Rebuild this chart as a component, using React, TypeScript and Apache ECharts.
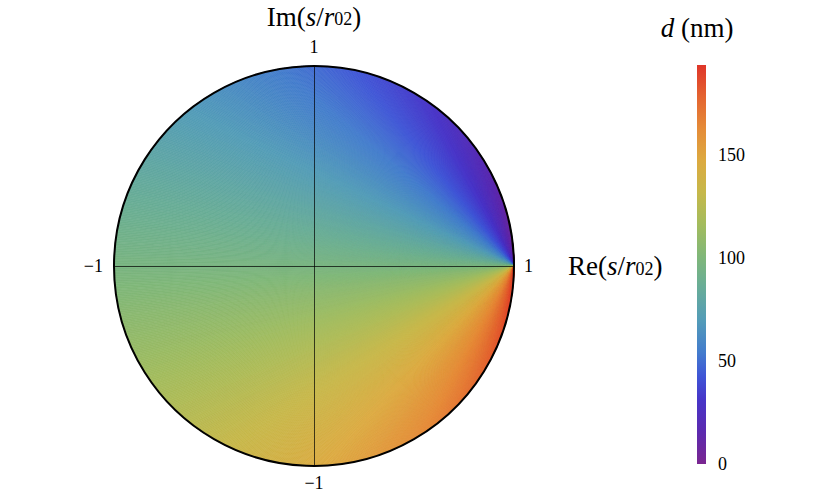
import React, { useEffect, useRef } from "react";
import * as echarts from "echarts";

// Edge samples: polar angle on the unit circle (deg) and d (nm) read at that edge point
const edgePhiDeg = [0, 15, 30, 45, 60, 75, 90, 105, 120, 135, 150, 165, 180, 195, 210, 225, 240, 255, 270, 285, 300, 315, 330, 345, 360];
const edgeD = [0, 8, 16, 24, 33, 41, 49, 57, 65, 73, 81, 89, 97, 106, 114, 122, 130, 138, 146, 154, 162, 170, 179, 187, 194];

// Colour bar
const cbMin = 0;
const cbMax = 194;
const cbInterval = 50;
const cbStops: [number, string][] = [
  [0.0, "#7a2690"],
  [0.08, "#5c2aaf"],
  [0.16, "#4735c8"],
  [0.22, "#3f55d6"],
  [0.28, "#437ccd"],
  [0.36, "#539cb8"],
  [0.45, "#6aae95"],
  [0.52, "#80b779"],
  [0.6, "#a3bc5d"],
  [0.68, "#c6b84a"],
  [0.76, "#dcaa40"],
  [0.84, "#e58c38"],
  [0.92, "#e46430"],
  [1.0, "#df3529"],
];

// Axis tick labels at the ends of the cross lines
const axisTicks = [
  { at: [0, 1], text: "1", side: "top" },
  { at: [-1, 0], text: "\u22121", side: "left" },
  { at: [1, 0], text: "1", side: "right" },
  { at: [0, -1], text: "\u22121", side: "bottom" },
];

const FONT = "Liberation Serif";

function hexToRgb(h: string) {
  const n = parseInt(h.slice(1), 16);
  return [(n >> 16) & 255, (n >> 8) & 255, n & 255];
}
function colorAt(d: number) {
  const t = Math.min(1, Math.max(0, (d - cbMin) / (cbMax - cbMin)));
  for (let i = 0; i < cbStops.length - 1; i++) {
    const [t0, c0] = cbStops[i];
    const [t1, c1] = cbStops[i + 1];
    if (t <= t1) {
      const f = (t - t0) / (t1 - t0);
      const a = hexToRgb(c0), b = hexToRgb(c1);
      const r = a.map((v, k) => Math.round(v + (b[k] - v) * f));
      return `rgb(${r[0]},${r[1]},${r[2]})`;
    }
  }
  return cbStops[cbStops.length - 1][1];
}

const richName = {
  n: { fontSize: 27, fontFamily: FONT, color: "#000" },
  i: { fontSize: 27, fontFamily: FONT, fontStyle: "italic", color: "#000" },
  sub: { fontSize: 18, fontFamily: FONT, color: "#000", verticalAlign: "bottom", padding: [0, 0, 2, 0] },
};

export default function App() {
  const ref = useRef<HTMLDivElement>(null);
  useEffect(() => {
    const chart = echarts.init(ref.current!, null, { renderer: "svg" });
    const wedges = edgePhiDeg.slice(0, -1).map((p, i) => [p, edgePhiDeg[i + 1], edgeD[i], edgeD[i + 1]]);

    const option: any = {
      animation: false,
      backgroundColor: "#fff",
      grid: [
        { left: 114, top: 66, width: 400, height: 400 },
        { left: 697, top: 65, width: 9, height: 399 },
      ],
      xAxis: [
        {
          gridIndex: 0, type: "value", min: -1, max: 1, z: 5,
          axisLine: { show: true, onZero: true, lineStyle: { color: "rgba(0,0,0,0.7)", width: 1 } },
          axisTick: { show: false }, axisLabel: { show: false }, splitLine: { show: false },
          name: "{n|Re(}{i|s}{n|/}{i|r}{sub|02}{n|)}",
          nameLocation: "end", nameGap: 54,
          nameTextStyle: { rich: richName, fontFamily: FONT, fontSize: 27, color: "#000" },
        },
        { gridIndex: 1, type: "value", min: 0, max: 1, show: false },
      ],
      yAxis: [
        {
          gridIndex: 0, type: "value", min: -1, max: 1, z: 5,
          axisLine: { show: true, onZero: true, lineStyle: { color: "rgba(0,0,0,0.7)", width: 1 } },
          axisTick: { show: false }, axisLabel: { show: false }, splitLine: { show: false },
          name: "{n|Im(}{i|s}{n|/}{i|r}{sub|02}{n|)}",
          nameLocation: "end", nameGap: 36,
          nameTextStyle: { rich: richName, fontFamily: FONT, fontSize: 27, color: "#000" },
        },
        {
          gridIndex: 1, type: "value", min: cbMin, max: cbMax, interval: cbInterval, position: "right",
          axisLine: { show: false }, axisTick: { show: false }, splitLine: { show: false },
          axisLabel: { margin: 12, fontSize: 18, fontFamily: FONT, color: "#000", showMaxLabel: false },
          name: "{i|d}{n| (nm)}", nameLocation: "end", nameGap: 24,
          nameTextStyle: {
            rich: {
              i: { fontSize: 27, fontFamily: FONT, fontStyle: "italic", color: "#000" },
              n: { fontSize: 27, fontFamily: FONT, color: "#000" },
            },
            align: "center",
          },
        },
      ],
      series: [
        {
          type: "custom", xAxisIndex: 0, yAxisIndex: 0, z: 1,
          data: wedges,
          renderItem: (params: any, api: any) => {
            const p0 = api.value(0), p1 = api.value(1), d0 = api.value(2), d1 = api.value(3);
            const apex = api.coord([1, 0]);
            const n = Math.max(2, Math.round((p1 - p0) * 2));
            const children: any[] = [];
            for (let k = 0; k < n; k++) {
              const a0 = ((p0 + ((p1 - p0) * k) / n) * Math.PI) / 180;
              const a1 = ((p0 + ((p1 - p0) * (k + 1)) / n) * Math.PI) / 180;
              const c = colorAt(d0 + ((d1 - d0) * (k + 0.5)) / n);
              children.push({
                type: "polygon",
                shape: { points: [apex, api.coord([Math.cos(a0), Math.sin(a0)]), api.coord([Math.cos(a1), Math.sin(a1)])] },
                style: { fill: c, stroke: c, lineWidth: 0.7 },
              });
            }
            return { type: "group", children };
          },
        },
        {
          type: "custom", xAxisIndex: 0, yAxisIndex: 0, z: 3,
          data: [[0, 0]],
          renderItem: (params: any, api: any) => {
            const c = api.coord([0, 0]);
            const r = api.coord([1, 0])[0] - c[0];
            return { type: "circle", shape: { cx: c[0], cy: c[1], r }, style: { fill: "none", stroke: "#000", lineWidth: 2 } };
          },
        },
        {
          type: "scatter", xAxisIndex: 0, yAxisIndex: 0, symbolSize: 0, z: 6,
          itemStyle: { opacity: 1 },
          data: axisTicks.map((t) => ({
            value: t.at,
            label: {
              show: true, position: t.side,
              distance: t.side === "left" ? 11 : t.side === "bottom" ? 8 : 10,
              formatter: t.text, fontSize: 18, fontFamily: FONT, color: "#000", opacity: 1,
            },
          })),
        },
        {
          type: "custom", xAxisIndex: 1, yAxisIndex: 1,
          data: [[0, cbMin, 1, cbMax]],
          renderItem: (params: any, api: any) => {
            const a = api.coord([api.value(0), api.value(1)]);
            const b = api.coord([api.value(2), api.value(3)]);
            return {
              type: "rect",
              shape: { x: a[0], y: b[1], width: b[0] - a[0], height: a[1] - b[1] },
              style: {
                fill: new echarts.graphic.LinearGradient(0, 1, 0, 0, cbStops.map(([o, c]) => ({ offset: o, color: c }))),
              },
            };
          },
        },
      ],
    };
    chart.setOption(option);
    return () => chart.dispose();
  }, []);
  return <div ref={ref} style={{ position: "absolute", left: 0, top: 0, width: 830, height: 492 }} />;
}
